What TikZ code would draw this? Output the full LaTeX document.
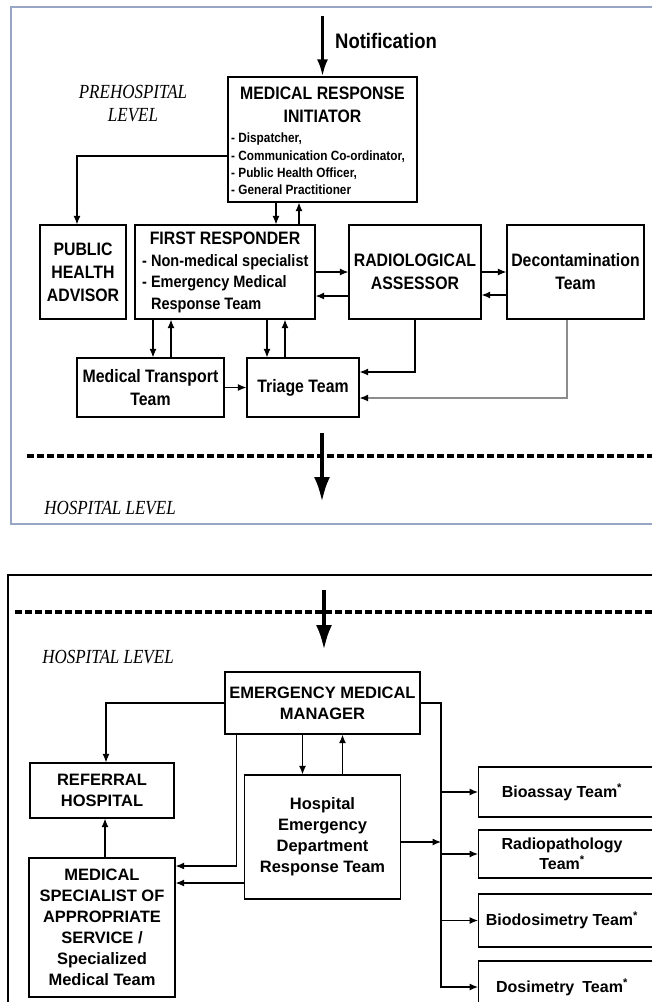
\documentclass[tikz,border=0pt]{standalone}
\usepackage{fontspec}
\newfontfamily\topsans{Liberation Sans}[FakeStretch=0.88]
\newfontfamily\botsans{Liberation Sans}
\newfontfamily\lvlserif{Liberation Serif}[FakeStretch=0.85]
\usetikzlibrary{arrows.meta,calc}
\definecolor{frameblue}{RGB}{150,166,196}
\definecolor{linegray}{RGB}{140,140,140}

\begin{document}
\begin{tikzpicture}[x=1pt,y=-1pt,
        >={Latex[length=8.5pt,width=7pt]},
        box/.style={draw, line width=1.3pt, align=center, inner sep=0pt,
            font=\topsans\bfseries\fontsize{18}{23}\selectfont},
        hbox/.style={draw, line width=1.3pt, align=center, inner sep=0pt,
            font=\botsans\bfseries\fontsize{16.5}{21}\selectfont},
        teambox/.style={draw, line width=1.3pt, inner sep=0pt, anchor=west,
            minimum width=190pt},
        teamlabel/.style={align=center, inner sep=0pt,
            font=\botsans\bfseries\fontsize{16}{20}\selectfont},
        listtext/.style={anchor=west, align=left, inner sep=0pt},
        link/.style={->, line width=1.1pt},
        level/.style={align=center, inner sep=0pt,
            font=\lvlserif\itshape\fontsize{20}{23}\selectfont},
        bigarrow/.style={-{Latex[length=25pt,width=16pt]}, line width=4pt},
        divider/.style={line width=3.5pt, dash pattern=on 7pt off 3pt}]
        \useasboundingbox (0,0) rectangle (652,1002);

        % frames
        \draw[frameblue, line width=2pt] (11,7) rectangle (720,524);
        \draw[line width=2.5pt] (8,575) rectangle (720,1060);

        % prehospital level
        \node[level] (prelevel) at (133,103.5) {PREHOSPITAL\\LEVEL};
        \node[box, minimum width=189pt, minimum height=125pt] (mri) at (322.5,139.5) {};
        \node[box, draw=none] (mrititle) at (322.5,105) {MEDICAL RESPONSE\\INITIATOR};
        \node[listtext, font=\topsans\bfseries\fontsize{13.4}{17.3}\selectfont] (mrilist) at (231,164)
            {- Dispatcher,\\- Communication Co-ordinator,\\- Public Health Officer,\\- General Practitioner};

        \coordinate (notif) at (322.5,16);
        \draw[line width=3pt, -{Latex[length=17pt,width=11pt]}] (notif) -- (mri.north);
        \node[anchor=west, inner sep=0pt, font=\topsans\bfseries\fontsize{21}{25}\selectfont] (notiflabel) at (335,41) {Notification};

        \node[box, minimum width=86pt, minimum height=94pt] (pha) at (83,272) {PUBLIC\\HEALTH\\ADVISOR};
        \node[box, minimum width=180pt, minimum height=94pt] (fr) at (225,272) {};
        \node[box, draw=none] (frtitle) at (225,238) {FIRST RESPONDER};
        \node[listtext, font=\topsans\bfseries\fontsize{16.5}{21.5}\selectfont] (frlist) at (142,283.5)
            {- Non-medical specialist\\- Emergency Medical\\\phantom{- }Response Team};
        \node[box, minimum width=132pt, minimum height=94pt] (ra) at (415,272) {RADIOLOGICAL\\ASSESSOR};
        \node[box, minimum width=137pt, minimum height=94pt] (decon) at (575.5,272) {Decontamination\\Team};
        \node[box, minimum width=147pt, minimum height=59pt] (mtt) at (150.5,387.5) {Medical Transport\\Team};
        \node[box, minimum width=112pt, minimum height=59pt] (triage) at (303,387.5) {Triage Team};

        \draw[link] ([yshift=-16.5pt]mri.west) -| ([xshift=-6pt]pha.north);
        \coordinate (frdown) at ([xshift=51pt]fr.north);
        \coordinate (frup) at ([xshift=74pt]fr.north);
        \draw[link] (mri.south -| frdown) -- (frdown);
        \draw[link] (frup) -- (mri.south -| frup);
        \draw[link] (fr.east) -- (ra.west);
        \coordinate (raback) at ([yshift=-24pt]ra.west);
        \draw[link] (raback) -- (raback -| fr.east);
        \draw[link] (ra.east) -- (decon.west);
        \coordinate (deconback) at ([yshift=-23pt]decon.west);
        \draw[link] (deconback) -- (deconback -| ra.east);
        \coordinate (mttdown) at ([xshift=2.5pt]mtt.north);
        \coordinate (mttup) at ([xshift=20.5pt]mtt.north);
        \draw[link] (fr.south -| mttdown) -- (mttdown);
        \draw[link] (mttup) -- (fr.south -| mttup);
        \coordinate (tridown) at ([xshift=-36pt]triage.north);
        \coordinate (triup) at ([xshift=-18pt]triage.north);
        \draw[link] (fr.south -| tridown) -- (tridown);
        \draw[link] (triup) -- (fr.south -| triup);
        \draw[link] (mtt.east) -- (triage.west);
        \draw[link] (ra.south) |- ([yshift=15.5pt]triage.east);
        \draw[link, linegray, -{Latex[length=8.5pt,width=7pt,black]}] ([xshift=-8.5pt]decon.south) |- ([yshift=-10.5pt]triage.east);

        % level change
        \coordinate (divl) at (27,456);
        \coordinate (divr) at (720,456);
        \draw[divider] (divl) -- (divr);
        \coordinate (downa) at (322,433);
        \coordinate (downb) at (322,502);
        \draw[bigarrow] (downa) -- (downb);
        \node[level] (hosplevel) at (110,508) {HOSPITAL LEVEL};

        % hospital level
        \coordinate (divl2) at (15,612);
        \coordinate (divr2) at (720,612);
        \draw[divider] (divl2) -- (divr2);
        \coordinate (downc) at (324,590);
        \coordinate (downd) at (324,650);
        \draw[bigarrow] (downc) -- (downd);
        \node[level] (hosplevel2) at (108,657) {HOSPITAL LEVEL};

        \node[hbox, minimum width=195pt, minimum height=62pt] (emm) at (322.5,703) {EMERGENCY MEDICAL\\MANAGER};
        \node[hbox, minimum width=144pt, minimum height=55pt] (ref) at (102,790.5) {REFERRAL\\HOSPITAL};
        \node[hbox, minimum width=156pt, minimum height=124pt] (hedrt) at (322.5,837) {Hospital\\Emergency\\Department\\Response Team};
        \node[hbox, minimum width=146pt, minimum height=139pt] (ms) at (102,927.5) {MEDICAL\\SPECIALIST OF\\APPROPRIATE\\SERVICE /\\Specialized\\Medical Team};

        \node[teambox, minimum height=50pt] (bio) at (478,792) {};
        \node[teambox, minimum height=48pt] (radio) at (478,854) {};
        \node[teambox, minimum height=53pt] (biodos) at (478,920.5) {};
        \node[teambox, minimum height=52pt] (dosi) at (478,987) {};
        \node[teamlabel] (biolabel) at ([xshift=84pt]bio.west) {Bioassay Team\textsuperscript{*}};
        \node[teamlabel] (radiolabel) at ([xshift=84pt]radio.west) {Radiopathology\\Team\textsuperscript{*}};
        \node[teamlabel] (biodoslabel) at ([xshift=84pt]biodos.west) {Biodosimetry Team\textsuperscript{*}};
        \node[teamlabel] (dosilabel) at ([xshift=84pt]dosi.west) {Dosimetry\enspace Team\textsuperscript{*}};

        \coordinate (trunk) at (441,703);
        \draw[link] (emm.east) -- (trunk) |- (dosi.west);
        \draw[link] (trunk |- bio.west) -- (bio.west);
        \draw[link] (trunk |- radio.west) -- (radio.west);
        \draw[link] (trunk |- biodos.west) -- (biodos.west);
        \coordinate (hedrtout) at ([yshift=-5pt]hedrt.east);
        \draw[link] (hedrtout) -- (hedrtout -| trunk);
        \draw[link] (emm.west) -| ([xshift=4pt]ref.north);
        \coordinate (emmleft) at ([xshift=12pt]emm.south west);
        \draw[link] (emmleft) |- ([yshift=61.5pt]ms.east);
        \coordinate (hedrtleft) at ([yshift=-46pt]hedrt.west);
        \draw[link] (hedrtleft) -- (hedrtleft -| ms.east);
        \draw[link] ([xshift=-20pt]emm.south) -- ([xshift=-20pt]hedrt.north);
        \draw[link] ([xshift=20pt]hedrt.north) -- ([xshift=20pt]emm.south);
        \draw[link] ([xshift=3pt]ms.north) -- ([xshift=3pt]ref.south);
    \end{tikzpicture}
\end{document}
